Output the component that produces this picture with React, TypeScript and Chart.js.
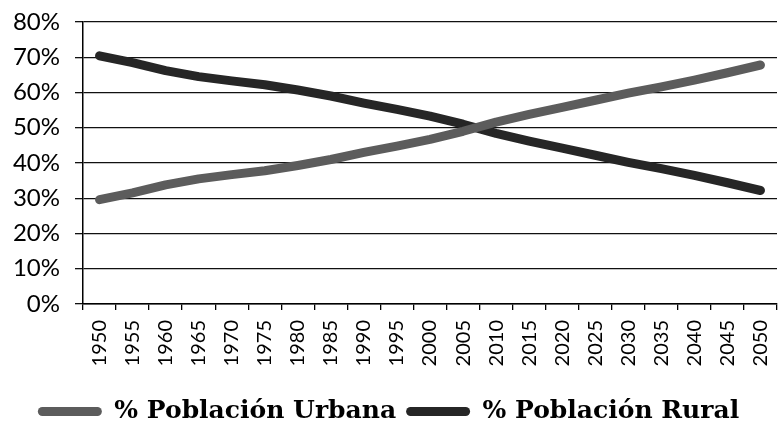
import React, { useEffect, useRef } from "react";
import { Chart, registerables } from "chart.js";

Chart.register(...registerables);

const years: string[] = [
  "1950", "1955", "1960", "1965", "1970", "1975", "1980", "1985", "1990", "1995", "2000",
  "2005", "2010", "2015", "2020", "2025", "2030", "2035", "2040", "2045", "2050",
];

const urbana: number[] = [
  29.6, 31.5, 33.8, 35.5, 36.7, 37.8, 39.3, 41.0, 43.0, 44.8, 46.7,
  49.0, 51.6, 53.8, 55.8, 57.8, 59.8, 61.6, 63.5, 65.6, 67.8,
];

const rural: number[] = [
  70.4, 68.5, 66.2, 64.5, 63.3, 62.2, 60.7, 59.0, 57.0, 55.2, 53.3,
  51.0, 48.4, 46.2, 44.2, 42.2, 40.2, 38.4, 36.5, 34.4, 32.2,
];

const yTicks: number[] = [0, 10, 20, 30, 40, 50, 60, 70, 80];

const seriesLabels: string[] = ["% Población Urbana", "% Población Rural"];

export default function App() {
  const canvasRef = useRef<HTMLCanvasElement | null>(null);

  useEffect(() => {
    if (!canvasRef.current) return;
    const urbanColor = "#5c5c5c";
    const ruralColor = "#262626";
    const chart = new Chart(canvasRef.current, {
      type: "line",
      data: {
        labels: years,
        datasets: [
          {
            label: seriesLabels[0],
            data: urbana,
            borderColor: urbanColor,
            backgroundColor: urbanColor,
            borderWidth: 9,
            borderCapStyle: "round",
            borderJoinStyle: "round",
            pointRadius: 0,
            tension: 0,
            clip: false as any,
          },
          {
            label: seriesLabels[1],
            data: rural,
            borderColor: ruralColor,
            backgroundColor: ruralColor,
            borderWidth: 9,
            borderCapStyle: "round",
            borderJoinStyle: "round",
            pointRadius: 0,
            tension: 0,
            clip: false as any,
          },
        ],
      },
      options: {
        animation: false,
        responsive: true,
        maintainAspectRatio: false,
        layout: { padding: { top: 22, right: 4, left: 0, bottom: 0 } },
        plugins: {
          tooltip: { enabled: false },
          legend: {
            position: "bottom",
            labels: {
              color: "#000",
              font: { family: "DejaVu Serif", weight: "bold", size: 25 },
              boxWidth: 64,
              boxHeight: 9,
              padding: 10,
              useBorderRadius: true,
              borderRadius: 4.5,
              generateLabels: (c: any) =>
                c.data.datasets.map((ds: any, i: number) => ({
                  text: ds.label,
                  fillStyle: ds.borderColor,
                  strokeStyle: ds.borderColor,
                  lineWidth: 0,
                  hidden: false,
                  datasetIndex: i,
                  borderRadius: 4.5,
                  fontColor: "#000",
                })),
            },
          },
        },
        scales: {
          x: {
            type: "category",
            offset: true,
            afterFit: (s: any) => {
              s.height = 85;
              s.paddingLeft = 0;
              s.paddingRight = 0;
            },
            grid: {
              offset: true,
              drawOnChartArea: false,
              drawTicks: true,
              tickLength: 6,
              color: "#000",
              lineWidth: 1.3,
            },
            border: { display: true, color: "#000", width: 1.5 },
            ticks: {
              color: "#000",
              font: { family: "Lato", size: 20 },
              minRotation: 90,
              maxRotation: 90,
              autoSkip: false,
              padding: 10,
            },
          },
          y: {
            min: 0,
            max: 80,
            afterFit: (s: any) => {
              s.width = 83;
              s.paddingTop = 0;
              s.paddingBottom = 0;
            },
            afterBuildTicks: (s: any) => {
              s.ticks = yTicks.map((v) => ({ value: v }));
            },
            grid: {
              color: "#111",
              lineWidth: 1.3,
              drawTicks: true,
              tickLength: 8,
            },
            border: { display: true, color: "#000", width: 1.5 },
            ticks: {
              color: "#000",
              font: { family: "Lato", size: 24 },
              padding: 15,
              callback: (v: any) => `${v}%`,
            },
          },
        },
      },
    });
    return () => chart.destroy();
  }, []);

  return (
    <div
      style={{
        position: "fixed",
        left: 0,
        top: 0,
        width: 781,
        height: 434,
        background: "#fff",
      }}
    >
      <canvas ref={canvasRef} />
    </div>
  );
}
